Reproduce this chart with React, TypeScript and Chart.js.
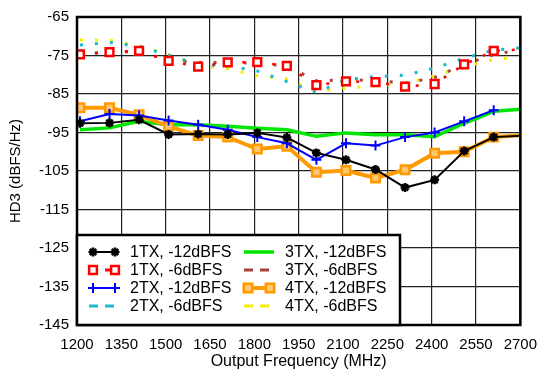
import React, { useEffect, useRef } from "react";
import { Chart, registerables } from "chart.js";
import { drawPoint } from "chart.js/helpers";

Chart.register(...registerables);

// Output frequency (MHz) of each measurement
const FREQS = [1210, 1310, 1410, 1510, 1610, 1710, 1810, 1910, 2010, 2110, 2210, 2310, 2410, 2510, 2610, 2710];

// HD3 (dBFS/Hz)
const TX1_M12 = [-92.6, -92.5, -91.7, -95.5, -95.4, -95.5, -95.1, -96.3, -100.3, -102.1, -104.6, -109.3, -107.3, -99.8, -96.2, -95.8];
const TX1_M6 = [-74.7, -74.1, -73.8, -76.4, -77.9, -76.8, -76.7, -77.7, -82.7, -81.7, -81.9, -83.1, -82.4, -77.3, -73.8, -73.4];
const TX2_M12 = [-92.1, -90.2, -90.6, -91.9, -93.0, -94.3, -96.2, -97.8, -102.1, -97.8, -98.4, -96.2, -95.0, -92.1, -89.2];
const TX2_M6 = [-72.3, -71.6, -72.6, -74.9, -77.3, -77.7, -79.0, -81.8, -84.6, -81.3, -80.5, -80.1, -78.3, -75.7, -73.6, -73.0];
const TX3_M12 = [-94.3, -93.8, -92.1, -93.0, -93.0, -93.4, -93.9, -94.3, -96.0, -95.1, -95.6, -95.6, -96.1, -92.6, -89.5, -88.9];
const TX3_M6 = [-74.5, -74.2, -73.9, -76.2, -76.8, -76.8, -77.0, -77.7, -81.6, -81.3, -81.5, -82.2, -80.7, -77.3, -74.8, -73.3];
const TX4_M12 = [-88.6, -88.6, -90.4, -93.4, -95.8, -96.2, -99.3, -98.6, -105.3, -104.9, -106.8, -104.7, -100.4, -100.0, -96.2, -95.7];
const TX4_M6 = [-71.0, -71.0, -72.5, -74.7, -77.7, -78.4, -80.3, -81.1, -84.2, -83.5, -82.9, -82.3, -80.3, -77.9, -76.0, -75.3];

const X_TICKS = [1200, 1350, 1500, 1650, 1800, 1950, 2100, 2250, 2400, 2550, 2700];
const Y_TICKS = [-145, -135, -125, -115, -105, -95, -85, -75, -65];

const LABELS = [
  "1TX, -12dBFS",
  "1TX, -6dBFS",
  "2TX, -12dBFS",
  "2TX, -6dBFS",
  "3TX, -12dBFS",
  "3TX, -6dBFS",
  "4TX, -12dBFS",
  "4TX, -6dBFS",
];

const FONT = "'Liberation Sans', Arial, Helvetica, sans-serif";

const pts = (vals: number[]) => vals.map((y, i) => ({ x: FREQS[i], y }));

type Style = {
  color: string;
  width: number;
  dash: number[];
  marker: string | false;
  radius: number;
  fill: string;
  markerWidth: number;
  order: number;
};

const STYLES: Style[] = [
  { color: "#000000", width: 2, dash: [], marker: "star", radius: 4.5, fill: "#000000", markerWidth: 2.5, order: 0 },
  { color: "#ff0000", width: 2.5, dash: [3, 12], marker: "rect", radius: 5.5, fill: "#ffffff", markerWidth: 2.5, order: 3 },
  { color: "#0000ff", width: 2, dash: [], marker: "cross", radius: 5, fill: "#0000ff", markerWidth: 2, order: 1 },
  { color: "#1ab8cc", width: 3, dash: [3, 12], marker: false, radius: 0, fill: "#1ab8cc", markerWidth: 0, order: 5 },
  { color: "#00e600", width: 3.5, dash: [], marker: false, radius: 0, fill: "#00e600", markerWidth: 0, order: 4 },
  { color: "#a8403a", width: 3, dash: [3, 12], marker: false, radius: 0, fill: "#a8403a", markerWidth: 0, order: 6 },
  { color: "#ff9900", width: 4, dash: [], marker: "rect", radius: 6, fill: "#ffc870", markerWidth: 2.5, order: 2 },
  { color: "#f5ee00", width: 3, dash: [3, 12], marker: false, radius: 0, fill: "#f5ee00", markerWidth: 0, order: 7 },
];

const SERIES = [TX1_M12, TX1_M6, TX2_M12, TX2_M6, TX3_M12, TX3_M6, TX4_M12, TX4_M6];

const framePlugin = {
  id: "frame",
  afterDatasetsDraw(chart: any) {
    const { ctx, chartArea: a } = chart;
    ctx.save();
    ctx.strokeStyle = "#000";
    ctx.lineWidth = 2.5;
    ctx.strokeRect(a.left, a.top, a.right - a.left, a.bottom - a.top);
    ctx.restore();
  },
};

const legendPlugin = {
  id: "boxLegend",
  afterDraw(chart: any) {
    const { ctx, chartArea: a } = chart;
    const left = a.left;
    const right = a.left + 323;
    const bottom = a.bottom;
    const top = a.bottom - 90;
    ctx.save();
    ctx.fillStyle = "#fff";
    ctx.fillRect(left, top, right - left, bottom - top);
    ctx.strokeStyle = "#000";
    ctx.lineWidth = 2.5;
    ctx.strokeRect(left, top, right - left, bottom - top);

    LABELS.forEach((label, i) => {
      const s = STYLES[i];
      const col = Math.floor(i / 4);
      const row = i % 4;
      const x0 = left + (col === 0 ? 12 : 167);
      const x1 = x0 + 30;
      const y = top + 17 + row * 18;
      ctx.save();
      ctx.strokeStyle = s.color;
      ctx.lineWidth = s.width;
      if (s.dash.length) {
        ctx.setLineDash([9, 7]);
        ctx.lineWidth = 3;
      }
      ctx.beginPath();
      ctx.moveTo(x0, y);
      ctx.lineTo(x1 - (s.dash.length ? 5 : 0), y);
      ctx.stroke();
      ctx.setLineDash([]);
      if (s.marker) {
        ctx.fillStyle = s.fill;
        ctx.strokeStyle = s.color;
        ctx.lineWidth = s.markerWidth;
        const o = { pointStyle: s.marker, radius: s.radius, rotation: 0, borderWidth: s.markerWidth };
        drawPoint(ctx, o as any, x0 + 4, y);
        drawPoint(ctx, o as any, x1 - 4, y);
      }
      ctx.restore();
      ctx.fillStyle = "#000";
      ctx.font = `16px ${FONT}`;
      ctx.textBaseline = "middle";
      ctx.textAlign = "left";
      ctx.fillText(label, x0 + 41, y + 1);
    });
    ctx.restore();
  },
};

export default function App() {
  const ref = useRef<HTMLCanvasElement | null>(null);

  useEffect(() => {
    if (!ref.current) return;
    const datasets = SERIES.map((vals, i) => {
      const s = STYLES[i];
      const last = vals.length - 1;
      return {
        label: LABELS[i],
        data: pts(vals),
        borderColor: s.color,
        backgroundColor: s.fill,
        borderWidth: s.width,
        borderDash: s.dash,
        pointStyle: s.marker || "circle",
        pointRadius: (c: any) => (s.marker && c.dataIndex < 15 ? s.radius : 0),
        pointBorderWidth: s.markerWidth,
        pointBorderColor: s.color,
        pointBackgroundColor: s.fill,
        tension: 0,
        order: s.order,
        spanGaps: true,
      };
    });
    const chart = new Chart(ref.current, {
      type: "line",
      data: { datasets },
      options: {
        animation: false,
        responsive: false,
        devicePixelRatio: 1,
        layout: { padding: { top: 16, right: 18, left: 0, bottom: 0 } },
        plugins: { legend: { display: false }, tooltip: { enabled: false } },
        scales: {
          x: {
            type: "linear",
            min: 1200,
            max: 2700,
            afterBuildTicks: (sc: any) => {
              sc.ticks = X_TICKS.map((v) => ({ value: v }));
            },
            afterFit: (sc: any) => {
              sc.height = 49;
            },
            grid: { color: "#222", lineWidth: 1.2, drawTicks: false },
            border: { display: false },
            ticks: {
              padding: 11,
              color: "#000",
              maxRotation: 0,
              font: { family: FONT, size: 15 },
              callback: (v: any) => String(v),
            },
            title: {
              display: true,
              text: "Output Frequency (MHz)",
              color: "#000",
              font: { family: FONT, size: 16 },
              padding: { top: 0, bottom: 2.5 },
            },
          },
          y: {
            type: "linear",
            min: -145,
            max: -65,
            afterBuildTicks: (sc: any) => {
              sc.ticks = Y_TICKS.map((v) => ({ value: v }));
            },
            afterFit: (sc: any) => {
              sc.width = 77;
            },
            grid: { color: "#222", lineWidth: 1.2, drawTicks: false },
            border: { display: false },
            ticks: {
              padding: 8,
              color: "#000",
              font: { family: FONT, size: 15 },
              callback: (v: any) => String(v),
            },
            title: {
              display: true,
              text: "HD3 (dBFS/Hz)",
              color: "#000",
              font: { family: FONT, size: 15 },
              padding: { top: 7, bottom: 0 },
            },
          },
        },
      },
      plugins: [framePlugin, legendPlugin],
    });
    return () => chart.destroy();
  }, []);

  return (
    <canvas
      ref={ref}
      width={548}
      height={374}
      style={{ position: "absolute", left: 0, top: 0, width: 548, height: 374, display: "block", background: "#fff" }}
    />
  );
}
